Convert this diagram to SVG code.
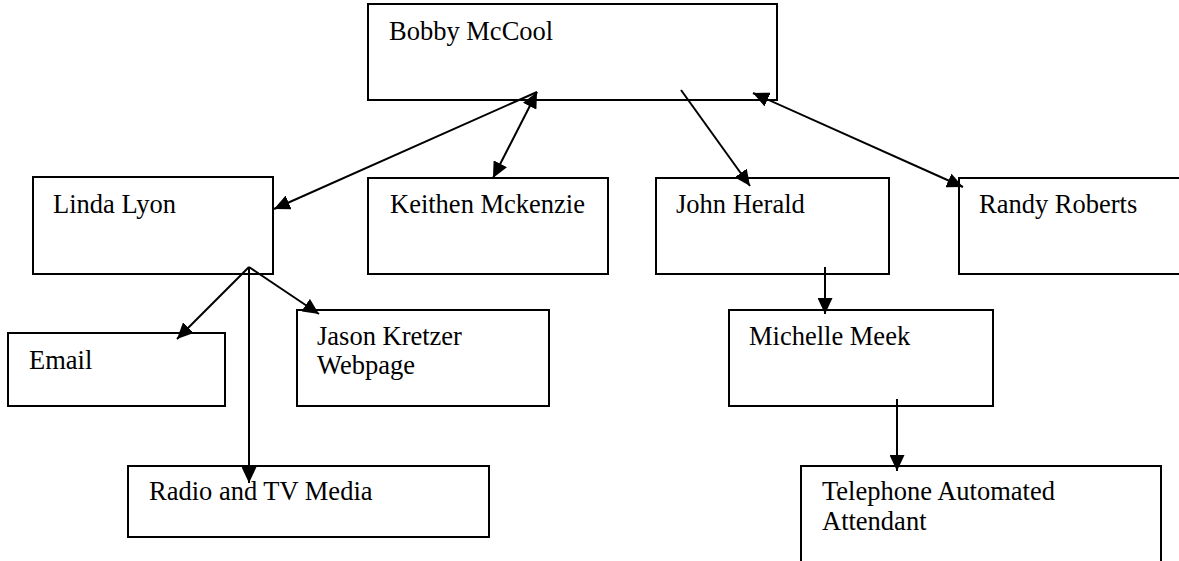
<svg xmlns="http://www.w3.org/2000/svg" width="1179" height="561" viewBox="0 0 1179 561">
<style>
.box{fill:#fff;stroke:#000;stroke-width:2}
.t{font-family:"Liberation Serif","Times New Roman",serif;font-size:26.5px;fill:#000}
.c{stroke:#000;stroke-width:2;fill:none}
</style>
<defs>
<marker id="arr" viewBox="0 0 16 15" refX="16" refY="7.5" markerWidth="16" markerHeight="15" markerUnits="userSpaceOnUse" orient="auto-start-reverse">
<path d="M0,0 L16,7.5 L0,15 z" fill="#000"/>
</marker>
</defs>
<rect width="1179" height="561" fill="#fff"/>
<g id="bobby"><rect class="box" x="368" y="4" width="409" height="96"/><text class="t" x="389" y="40">Bobby McCool</text></g>
<g id="linda"><rect class="box" x="33" y="177" width="240" height="97"/><text class="t" x="53" y="213">Linda Lyon</text></g>
<g id="keithen"><rect class="box" x="368" y="178" width="240" height="96"/><text class="t" x="390" y="213">Keithen Mckenzie</text></g>
<g id="john"><rect class="box" x="656" y="178" width="233" height="96"/><text class="t" x="676" y="213">John Herald</text></g>
<g id="randy"><rect class="box" x="959" y="178" width="240" height="96"/><text class="t" x="979" y="213">Randy Roberts</text></g>
<g id="email"><rect class="box" x="8" y="333" width="217" height="73"/><text class="t" x="29" y="369">Email</text></g>
<g id="jason"><rect class="box" x="297" y="310" width="252" height="96"/><text class="t" x="317" y="345">Jason Kretzer</text><text class="t" x="317" y="374">Webpage</text></g>
<g id="radio"><rect class="box" x="128" y="466" width="361" height="71"/><text class="t" x="149" y="500">Radio and TV Media</text></g>
<g id="michelle"><rect class="box" x="729" y="310" width="264" height="96"/><text class="t" x="749" y="345">Michelle Meek</text></g>
<g id="telephone"><rect class="box" x="801" y="466" width="360" height="96"/><text class="t" x="822" y="500">Telephone Automated</text><text class="t" x="822" y="530">Attendant</text></g>
<g id="connectors">
<line class="c" x1="537" y1="92" x2="274" y2="209" marker-end="url(#arr)"/>
<line class="c" x1="537" y1="92" x2="493" y2="178" marker-start="url(#arr)" marker-end="url(#arr)"/>
<line class="c" x1="681" y1="90" x2="750" y2="186" marker-end="url(#arr)"/>
<line class="c" x1="753" y1="93" x2="963" y2="187" marker-start="url(#arr)" marker-end="url(#arr)"/>
<line class="c" x1="249" y1="267" x2="177" y2="339" marker-end="url(#arr)"/>
<line class="c" x1="249" y1="267" x2="319" y2="314" marker-end="url(#arr)"/>
<line class="c" x1="249" y1="267" x2="249" y2="483" marker-end="url(#arr)"/>
<line class="c" x1="825" y1="267" x2="825" y2="314" marker-end="url(#arr)"/>
<line class="c" x1="897" y1="399" x2="897" y2="471" marker-end="url(#arr)"/>
</g>
</svg>
